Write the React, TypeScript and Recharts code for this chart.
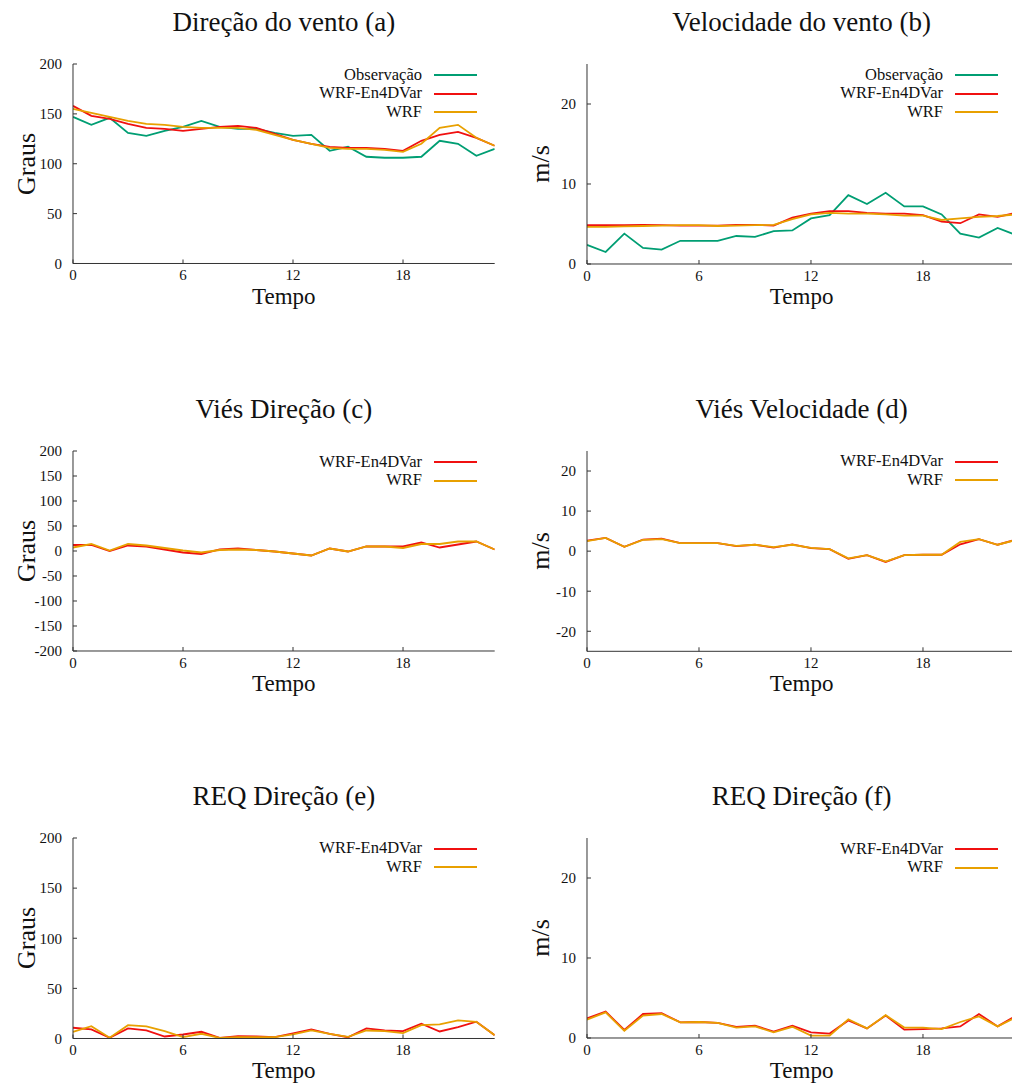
import { LineChart, Line, XAxis, YAxis, Legend } from 'recharts';

const HOURS = [0, 1, 2, 3, 4, 5, 6, 7, 8, 9, 10, 11, 12, 13, 14, 15, 16, 17, 18, 19, 20, 21, 22, 23];
const X_TICKS = [0, 6, 12, 18];

// (a) direção do vento
const dirObs = [147, 139, 146, 131, 128, 133, 137, 143, 137, 135, 135, 131, 128, 129, 113, 117, 107, 106, 106, 107, 123, 120, 108, 115];
const dirEn4d = [158, 148, 145, 140, 136, 135, 133, 135, 137, 138, 136, 130, 124, 120, 117, 116, 116, 115, 113, 123, 129, 132, 126, 118];
const dirWrf = [155, 151, 147, 143, 140, 139, 137, 136, 136, 136, 134, 129, 124, 120, 116, 115, 115, 114, 112, 120, 136, 139, 126, 118];

// (b) velocidade do vento
const spdObs = [2.4, 1.5, 3.8, 2.0, 1.8, 2.9, 2.9, 2.9, 3.5, 3.4, 4.1, 4.2, 5.7, 6.1, 8.6, 7.5, 8.9, 7.2, 7.2, 6.2, 3.8, 3.3, 4.5, 3.6];
const spdEn4d = [4.85, 4.85, 4.85, 4.9, 4.85, 4.8, 4.8, 4.8, 4.9, 4.9, 4.8, 5.8, 6.3, 6.6, 6.6, 6.4, 6.3, 6.3, 6.1, 5.3, 5.1, 6.2, 5.9, 6.4];
const spdWrf = [4.65, 4.65, 4.7, 4.75, 4.8, 4.85, 4.85, 4.75, 4.8, 4.85, 4.9, 5.6, 6.2, 6.4, 6.3, 6.3, 6.2, 6.05, 6.05, 5.5, 5.7, 5.9, 6.0, 6.2];

// (c) viés direção
const biasDirEn4d = [12, 12, 0, 11, 9, 3, -3, -6, 3, 5, 2, -1, -5, -9, 5, -1, 9, 9, 9, 17, 7, 13, 19, 3];
const biasDirWrf = [7, 14, 1, 14, 11, 6, 1, -3, 2, 3, 2, -1, -5, -9, 5, -1, 9, 9, 6, 14, 14, 19, 19, 3];

// (d) viés velocidade
const biasSpdEn4d = [2.6, 3.3, 1.1, 2.9, 3.1, 2.0, 2.0, 2.0, 1.25, 1.6, 0.9, 1.7, 0.75, 0.5, -1.9, -1.0, -2.7, -1.0, -0.9, -0.9, 1.7, 3.0, 1.6, 2.9];
const biasSpdWrf = [2.5, 3.3, 1.1, 2.8, 3.0, 2.0, 2.0, 2.0, 1.3, 1.6, 1.0, 1.6, 0.8, 0.5, -1.8, -1.0, -2.6, -1.0, -0.9, -0.9, 2.3, 3.0, 1.6, 2.8];

// (e) REQ direção
const reqDirEn4d = [10.7, 9, 0.7, 10, 8, 2, 4, 6.7, 0.7, 2.3, 2, 1.3, 5, 9, 4.7, 1.3, 10, 8, 7.3, 14.7, 7, 11.3, 16.7, 3.3];
const reqDirWrf = [6.7, 12.3, 0.7, 13.3, 12, 7.3, 1.3, 4.7, 0.7, 1.3, 1.3, 1.3, 4, 8, 4.7, 1.7, 8, 7.3, 5.3, 13.3, 14, 18, 16.7, 3.3];

// (f) REQ velocidade
const reqSpdEn4d = [2.45, 3.3, 1.0, 3.0, 3.1, 1.95, 2.0, 1.9, 1.4, 1.55, 0.8, 1.55, 0.7, 0.55, 2.2, 1.2, 2.8, 1.05, 1.1, 1.2, 1.45, 3.0, 1.45, 2.8];
const reqSpdWrf = [2.3, 3.2, 0.9, 2.8, 3.0, 1.95, 2.0, 1.9, 1.3, 1.45, 0.7, 1.4, 0.3, 0.3, 2.35, 1.2, 2.85, 1.3, 1.3, 1.1, 2.0, 2.7, 1.45, 2.6];

const GREEN = '#009e73';
const RED = '#f01010';
const ORANGE = '#e8a000';
const AXIS = '#333';
const FONT = "'Liberation Serif', 'Times New Roman', serif";

interface Series {
    name: string;
    values: number[];
    color: string;
}

interface PanelProps {
    title: string;
    yLabel: string;
    plotL: number;
    plotR: number;
    plotT: number;
    plotB: number;
    legendRight: number;
    domain: [number, number];
    yTicks: number[];
    series: Series[];
}

function Panel({ title, yLabel, plotL, plotR, plotT, plotB, legendRight, domain, yTicks, series }: PanelProps) {
    const ml = 15, yw = 45, mt = 50, mr = 10, xh = 30, mb = 10;
    const cx = plotL - ml - yw;
    const cy = plotT - mt;
    const cw = plotR - cx + mr;
    const ch = plotB - cy + xh + mb;
    const data = HOURS.map((h, i) => {
        const row: Record<string, number> = { h };
        series.forEach((s) => { row[s.name] = s.values[i]; });
        return row;
    });
    const midX = (plotL + plotR) / 2;
    const midY = (plotT + plotB) / 2;
    const tickStyle = { fontSize: 15, fill: '#111', fontFamily: FONT };

    // legend keeps the plotting order (gnuplot style: text, then line sample)
    const renderLegend = () => (
        <div>
            {series.map((s) => (
                <div key={s.name} style={{ display: 'flex', alignItems: 'center', justifyContent: 'flex-end', height: 18.7 }}>
                    <span style={{ fontFamily: FONT, fontSize: 16.5, lineHeight: '18.7px', color: '#111' }}>{s.name}</span>
                    <span style={{ display: 'inline-block', width: 43, marginLeft: 12, borderTop: `2px solid ${s.color}` }} />
                </div>
            ))}
        </div>
    );

    return (
        <>
            <div style={{ position: 'absolute', left: midX, top: plotT - 32 - 22.6, transform: 'translateX(-50%)', fontSize: 27, lineHeight: 1, whiteSpace: 'nowrap', color: '#111' }}>
                {title}
            </div>
            <div style={{ position: 'absolute', left: midX, top: plotB + 24.1, transform: 'translateX(-50%)', fontSize: 23, lineHeight: 0.75, whiteSpace: 'nowrap', color: '#111' }}>
                Tempo
            </div>
            <div style={{ position: 'absolute', left: plotL - 46, top: midY, transform: 'translate(-50%, -50%) rotate(-90deg)', fontSize: 26, lineHeight: 1, whiteSpace: 'nowrap', color: '#111' }}>
                {yLabel}
            </div>
            <div style={{ position: 'absolute', left: cx, top: cy }}>
                <LineChart width={cw} height={ch} data={data} margin={{ top: mt, right: mr, bottom: mb, left: ml }}>
                    <XAxis dataKey="h" type="number" domain={[0, 23]} ticks={X_TICKS} height={xh}
                        stroke={AXIS} tickSize={-4} tickMargin={10} tick={tickStyle} allowDataOverflow />
                    <XAxis xAxisId="top" orientation="top" dataKey="h" type="number" domain={[0, 23]} ticks={X_TICKS} height={0}
                        stroke={AXIS} tickSize={-4} tick={false} allowDataOverflow />
                    <YAxis type="number" domain={domain} ticks={yTicks} width={yw} interval={0}
                        stroke={AXIS} tickSize={-4} tickMargin={15} tick={tickStyle} allowDataOverflow />
                    <YAxis yAxisId="right" orientation="right" type="number" domain={domain} ticks={yTicks} width={0} interval={0}
                        stroke={AXIS} tickSize={-4} tick={false} allowDataOverflow />
                    <Legend layout="vertical" align="center" verticalAlign="middle" content={renderLegend}
                        wrapperStyle={{ left: legendRight - cx - 240, top: mt + 1.7, width: 240, height: 'auto', bottom: 'auto', right: 'auto' }} />
                    {series.map((s) => (
                        <Line key={s.name} dataKey={s.name} name={s.name} stroke={s.color} strokeWidth={1.8}
                            dot={false} activeDot={false} isAnimationActive={false} type="linear" />
                    ))}
                </LineChart>
            </div>
        </>
    );
}

const LEFT = { plotL: 73, plotR: 494.7, legendRight: 477 };
const RIGHT = { plotL: 587, plotR: 1016.3, legendRight: 998 };

export default function App() {
    return (
        <div style={{ position: 'absolute', left: 0, top: 0, width: 1012, height: 1084, overflow: 'hidden', background: '#fff', fontFamily: FONT }}>
            <Panel title="Direção do vento (a)" yLabel="Graus" {...LEFT} plotT={64} plotB={263.5}
                domain={[0, 200]} yTicks={[0, 50, 100, 150, 200]}
                series={[
                    { name: 'Observação', values: dirObs, color: GREEN },
                    { name: 'WRF-En4DVar', values: dirEn4d, color: RED },
                    { name: 'WRF', values: dirWrf, color: ORANGE },
                ]} />
            <Panel title="Velocidade do vento (b)" yLabel="m/s" {...RIGHT} plotT={64} plotB={264}
                domain={[0, 25]} yTicks={[0, 10, 20]}
                series={[
                    { name: 'Observação', values: spdObs, color: GREEN },
                    { name: 'WRF-En4DVar', values: spdEn4d, color: RED },
                    { name: 'WRF', values: spdWrf, color: ORANGE },
                ]} />
            <Panel title="Viés Direção (c)" yLabel="Graus" {...LEFT} plotT={451} plotB={651}
                domain={[-200, 200]} yTicks={[-200, -150, -100, -50, 0, 50, 100, 150, 200]}
                series={[
                    { name: 'WRF-En4DVar', values: biasDirEn4d, color: RED },
                    { name: 'WRF', values: biasDirWrf, color: ORANGE },
                ]} />
            <Panel title="Viés Velocidade (d)" yLabel="m/s" {...RIGHT} plotT={450.7} plotB={651}
                domain={[-25, 25]} yTicks={[-20, -10, 0, 10, 20]}
                series={[
                    { name: 'WRF-En4DVar', values: biasSpdEn4d, color: RED },
                    { name: 'WRF', values: biasSpdWrf, color: ORANGE },
                ]} />
            <Panel title="REQ Direção (e)" yLabel="Graus" {...LEFT} plotT={837.5} plotB={1038}
                domain={[0, 200]} yTicks={[0, 50, 100, 150, 200]}
                series={[
                    { name: 'WRF-En4DVar', values: reqDirEn4d, color: RED },
                    { name: 'WRF', values: reqDirWrf, color: ORANGE },
                ]} />
            <Panel title="REQ Direção (f)" yLabel="m/s" {...RIGHT} plotT={838} plotB={1038}
                domain={[0, 25]} yTicks={[0, 10, 20]}
                series={[
                    { name: 'WRF-En4DVar', values: reqSpdEn4d, color: RED },
                    { name: 'WRF', values: reqSpdWrf, color: ORANGE },
                ]} />
        </div>
    );
}
